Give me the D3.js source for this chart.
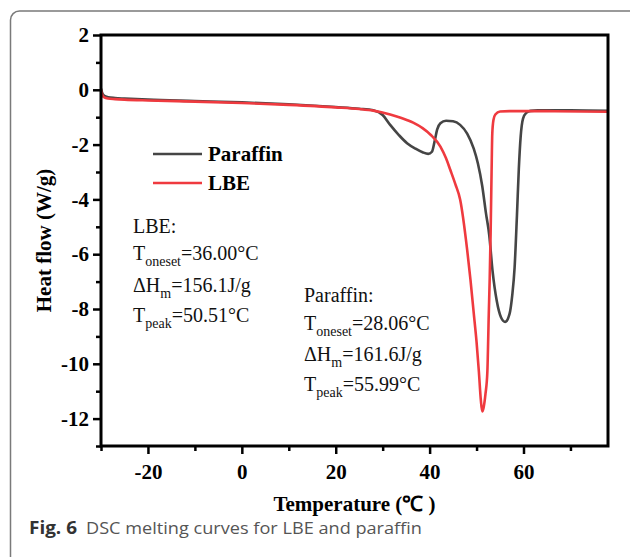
<!DOCTYPE html>
<html>
<head>
<meta charset="utf-8">
<script src="https://cdn.jsdelivr.net/npm/d3@7"></script>
<style>
  body { margin: 0; background: #fff; }
  svg { display: block; }
</style>
</head>
<body>
<svg id="chart" width="630" height="557"></svg>
<script>
// ---- data ----
const paraffinT = [-30, -29.7, -29.3, -28.5, -27, -25, -20, -10, 0, 10, 20, 25, 28, 30, 31.6, 33.5, 35.2, 37, 38.5, 39.7, 40.5, 41.1, 41.6, 42.3, 43.5, 45, 46.5, 48, 49.4, 50.3, 51.2, 52.0, 52.7, 53.4, 54.3, 55.2, 56.1, 57.0, 57.6, 58.1, 58.6, 59.0, 59.4, 59.9, 60.6, 61.5, 63, 66, 70, 78];
const paraffinV = [0.05, -0.14, -0.22, -0.27, -0.30, -0.32, -0.36, -0.41, -0.46, -0.53, -0.63, -0.69, -0.75, -0.92, -1.28, -1.66, -1.95, -2.15, -2.28, -2.34, -2.26, -1.85, -1.45, -1.22, -1.13, -1.15, -1.28, -1.6, -2.15, -2.7, -3.5, -4.5, -5.3, -6.6, -7.7, -8.3, -8.47, -8.2, -7.5, -6.5, -4.6, -2.9, -1.7, -1.05, -0.84, -0.77, -0.75, -0.75, -0.75, -0.77];

const lbeT = [-30, -29.7, -29.3, -28.5, -27, -25, -20, -10, 0, 10, 20, 25, 28, 31.6, 34, 36.5, 38.5, 40.2, 42.3, 43.5, 44.4, 45.5, 46.5, 48.0, 48.7, 49.4, 50.0, 50.5, 50.9, 51.2, 51.5, 51.9, 52.3, 52.6, 52.8, 53.0, 53.2, 53.35, 53.6, 54.0, 55.0, 57, 65, 78];
const lbeV = [0.0, -0.2, -0.28, -0.32, -0.34, -0.36, -0.39, -0.43, -0.48, -0.55, -0.64, -0.70, -0.76, -0.90, -1.03, -1.2, -1.4, -1.64, -2.07, -2.5, -2.92, -3.45, -4.0, -5.84, -6.93, -8.15, -9.2, -10.3, -11.3, -11.74, -11.6, -11.1, -10.3, -8.2, -6.9, -5.2, -3.0, -1.6, -1.1, -0.9, -0.79, -0.78, -0.78, -0.8];

const xMajorTicks = [-20, 0, 20, 40, 60];
const xMinorTicks = [-30, -10, 10, 30, 50, 70];
const yMajorTicks = [2, 0, -2, -4, -6, -8, -10, -12];
const yMinorTicks = [1, -1, -3, -5, -7, -9, -11, -13];

const seriesNames = ["Paraffin", "LBE"];
const seriesColors = ["#454545", "#ef3a3f"];

const lbeNotes = [["LBE:", ""], ["T", "oneset", "=36.00°C"], ["ΔH", "m", "=156.1J/g"], ["T", "peak", "=50.51°C"]];
const paraffinNotes = [["Paraffin:", ""], ["T", "oneset", "=28.06°C"], ["ΔH", "m", "=161.6J/g"], ["T", "peak", "=55.99°C"]];

// ---- layout ----
const svg = d3.select("#chart");
const L = 101, R = 608, T = 35, B = 446;
const x = d3.scaleLinear().domain([-30, 78]).range([L, R]);
const y = d3.scaleLinear().domain([-13, 2]).range([B, T]);

// outer rounded border
svg.append("rect")
  .attr("x", 10.5).attr("y", 11).attr("width", 630).attr("height", 570)
  .attr("rx", 9).attr("fill", "none").attr("stroke", "#7a7a7a").attr("stroke-width", 1.5);

const serif = "'Liberation Serif', 'Times New Roman', serif";

// clip
svg.append("defs").append("clipPath").attr("id", "plotclip")
  .append("rect").attr("x", L).attr("y", T).attr("width", R - L).attr("height", B - T);

// curves
const line = d3.line().x(d => x(d[0])).y(d => y(d[1])).curve(d3.curveMonotoneX);
const plotG = svg.append("g").attr("clip-path", "url(#plotclip)");
plotG.append("path")
  .datum(paraffinT.map((t, i) => [t, paraffinV[i]]))
  .attr("d", line).attr("fill", "none")
  .attr("stroke", seriesColors[0]).attr("stroke-width", 2.6).attr("stroke-linejoin", "round");
plotG.append("path")
  .datum(lbeT.map((t, i) => [t, lbeV[i]]))
  .attr("d", line).attr("fill", "none")
  .attr("stroke", seriesColors[1]).attr("stroke-width", 2.6).attr("stroke-linejoin", "round");

// axes
const fmt = d => String(d);
function styleAxis(g) {
  g.selectAll(".domain").remove();
  g.selectAll(".tick line").attr("stroke", "#000").attr("stroke-width", 2.5);
  g.selectAll(".tick text").attr("fill", "#000")
    .style("font-family", serif).style("font-weight", "bold").style("font-size", "21px");
}
const xAxis = svg.append("g").attr("transform", `translate(0,${B})`)
  .call(d3.axisBottom(x).tickValues(xMajorTicks).tickSize(8).tickPadding(10).tickFormat(fmt));
styleAxis(xAxis);
const xMinor = svg.append("g").attr("transform", `translate(0,${B})`)
  .call(d3.axisBottom(x).tickValues(xMinorTicks).tickSize(5).tickFormat(""));
styleAxis(xMinor);

const yAxis = svg.append("g").attr("transform", `translate(${L},0)`)
  .call(d3.axisLeft(y).tickValues(yMajorTicks).tickSize(8).tickPadding(4).tickFormat(fmt));
styleAxis(yAxis);
const yMinor = svg.append("g").attr("transform", `translate(${L},0)`)
  .call(d3.axisLeft(y).tickValues(yMinorTicks).tickSize(5).tickFormat(""));
styleAxis(yMinor);

// frame
svg.append("rect").attr("x", L).attr("y", T).attr("width", R - L).attr("height", B - T)
  .attr("fill", "none").attr("stroke", "#000").attr("stroke-width", 3);

// axis titles
svg.append("text").attr("x", (L + R) / 2).attr("y", 511).attr("text-anchor", "middle")
  .style("font-family", serif).style("font-weight", "bold").style("font-size", "21px")
  .text("Temperature (℃ )");
svg.append("text").attr("transform", `translate(51,${(T + B) / 2}) rotate(-90)`).attr("text-anchor", "middle")
  .style("font-family", serif).style("font-weight", "bold").style("font-size", "21px")
  .text("Heat flow (W/g)");

// legend
const legendY = [154, 183];
seriesNames.forEach((name, i) => {
  svg.append("line").attr("x1", 153).attr("x2", 202).attr("y1", legendY[i]).attr("y2", legendY[i])
    .attr("stroke", seriesColors[i]).attr("stroke-width", 2.6);
  svg.append("text").attr("x", 208).attr("y", legendY[i] + 7)
    .style("font-family", serif).style("font-weight", "bold").style("font-size", "21px")
    .text(name);
});

// annotations
function notes(lines, x0, baselines) {
  lines.forEach((ln, i) => {
    const t = svg.append("text").attr("x", x0).attr("y", baselines[i])
      .style("font-family", serif).style("font-size", "20px").attr("fill", "#111");
    if (ln.length === 2) { t.text(ln[0]); return; }
    t.append("tspan").text(ln[0]);
    t.append("tspan").attr("dy", 6).style("font-size", "14px").text(ln[1]);
    t.append("tspan").attr("dy", -6).text(ln[2]);
  });
}
notes(lbeNotes, 133, [233, 260, 292, 322]);
notes(paraffinNotes, 304, [302, 330, 361, 391]);

// caption
svg.append("text").attr("x", 29).attr("y", 534)
  .attr("textLength", 48).attr("lengthAdjust", "spacingAndGlyphs")
  .style("font-family", "'Open Sans', 'Noto Sans', sans-serif").style("font-weight", "bold")
  .style("font-size", "17px").attr("fill", "#333").text("Fig. 6");
svg.append("text").attr("x", 86).attr("y", 534)
  .attr("textLength", 336).attr("lengthAdjust", "spacingAndGlyphs")
  .style("font-family", "'Open Sans', 'Noto Sans', sans-serif")
  .style("font-size", "17px").attr("fill", "#555").text("DSC melting curves for LBE and paraffin");
</script>
</body>
</html>
